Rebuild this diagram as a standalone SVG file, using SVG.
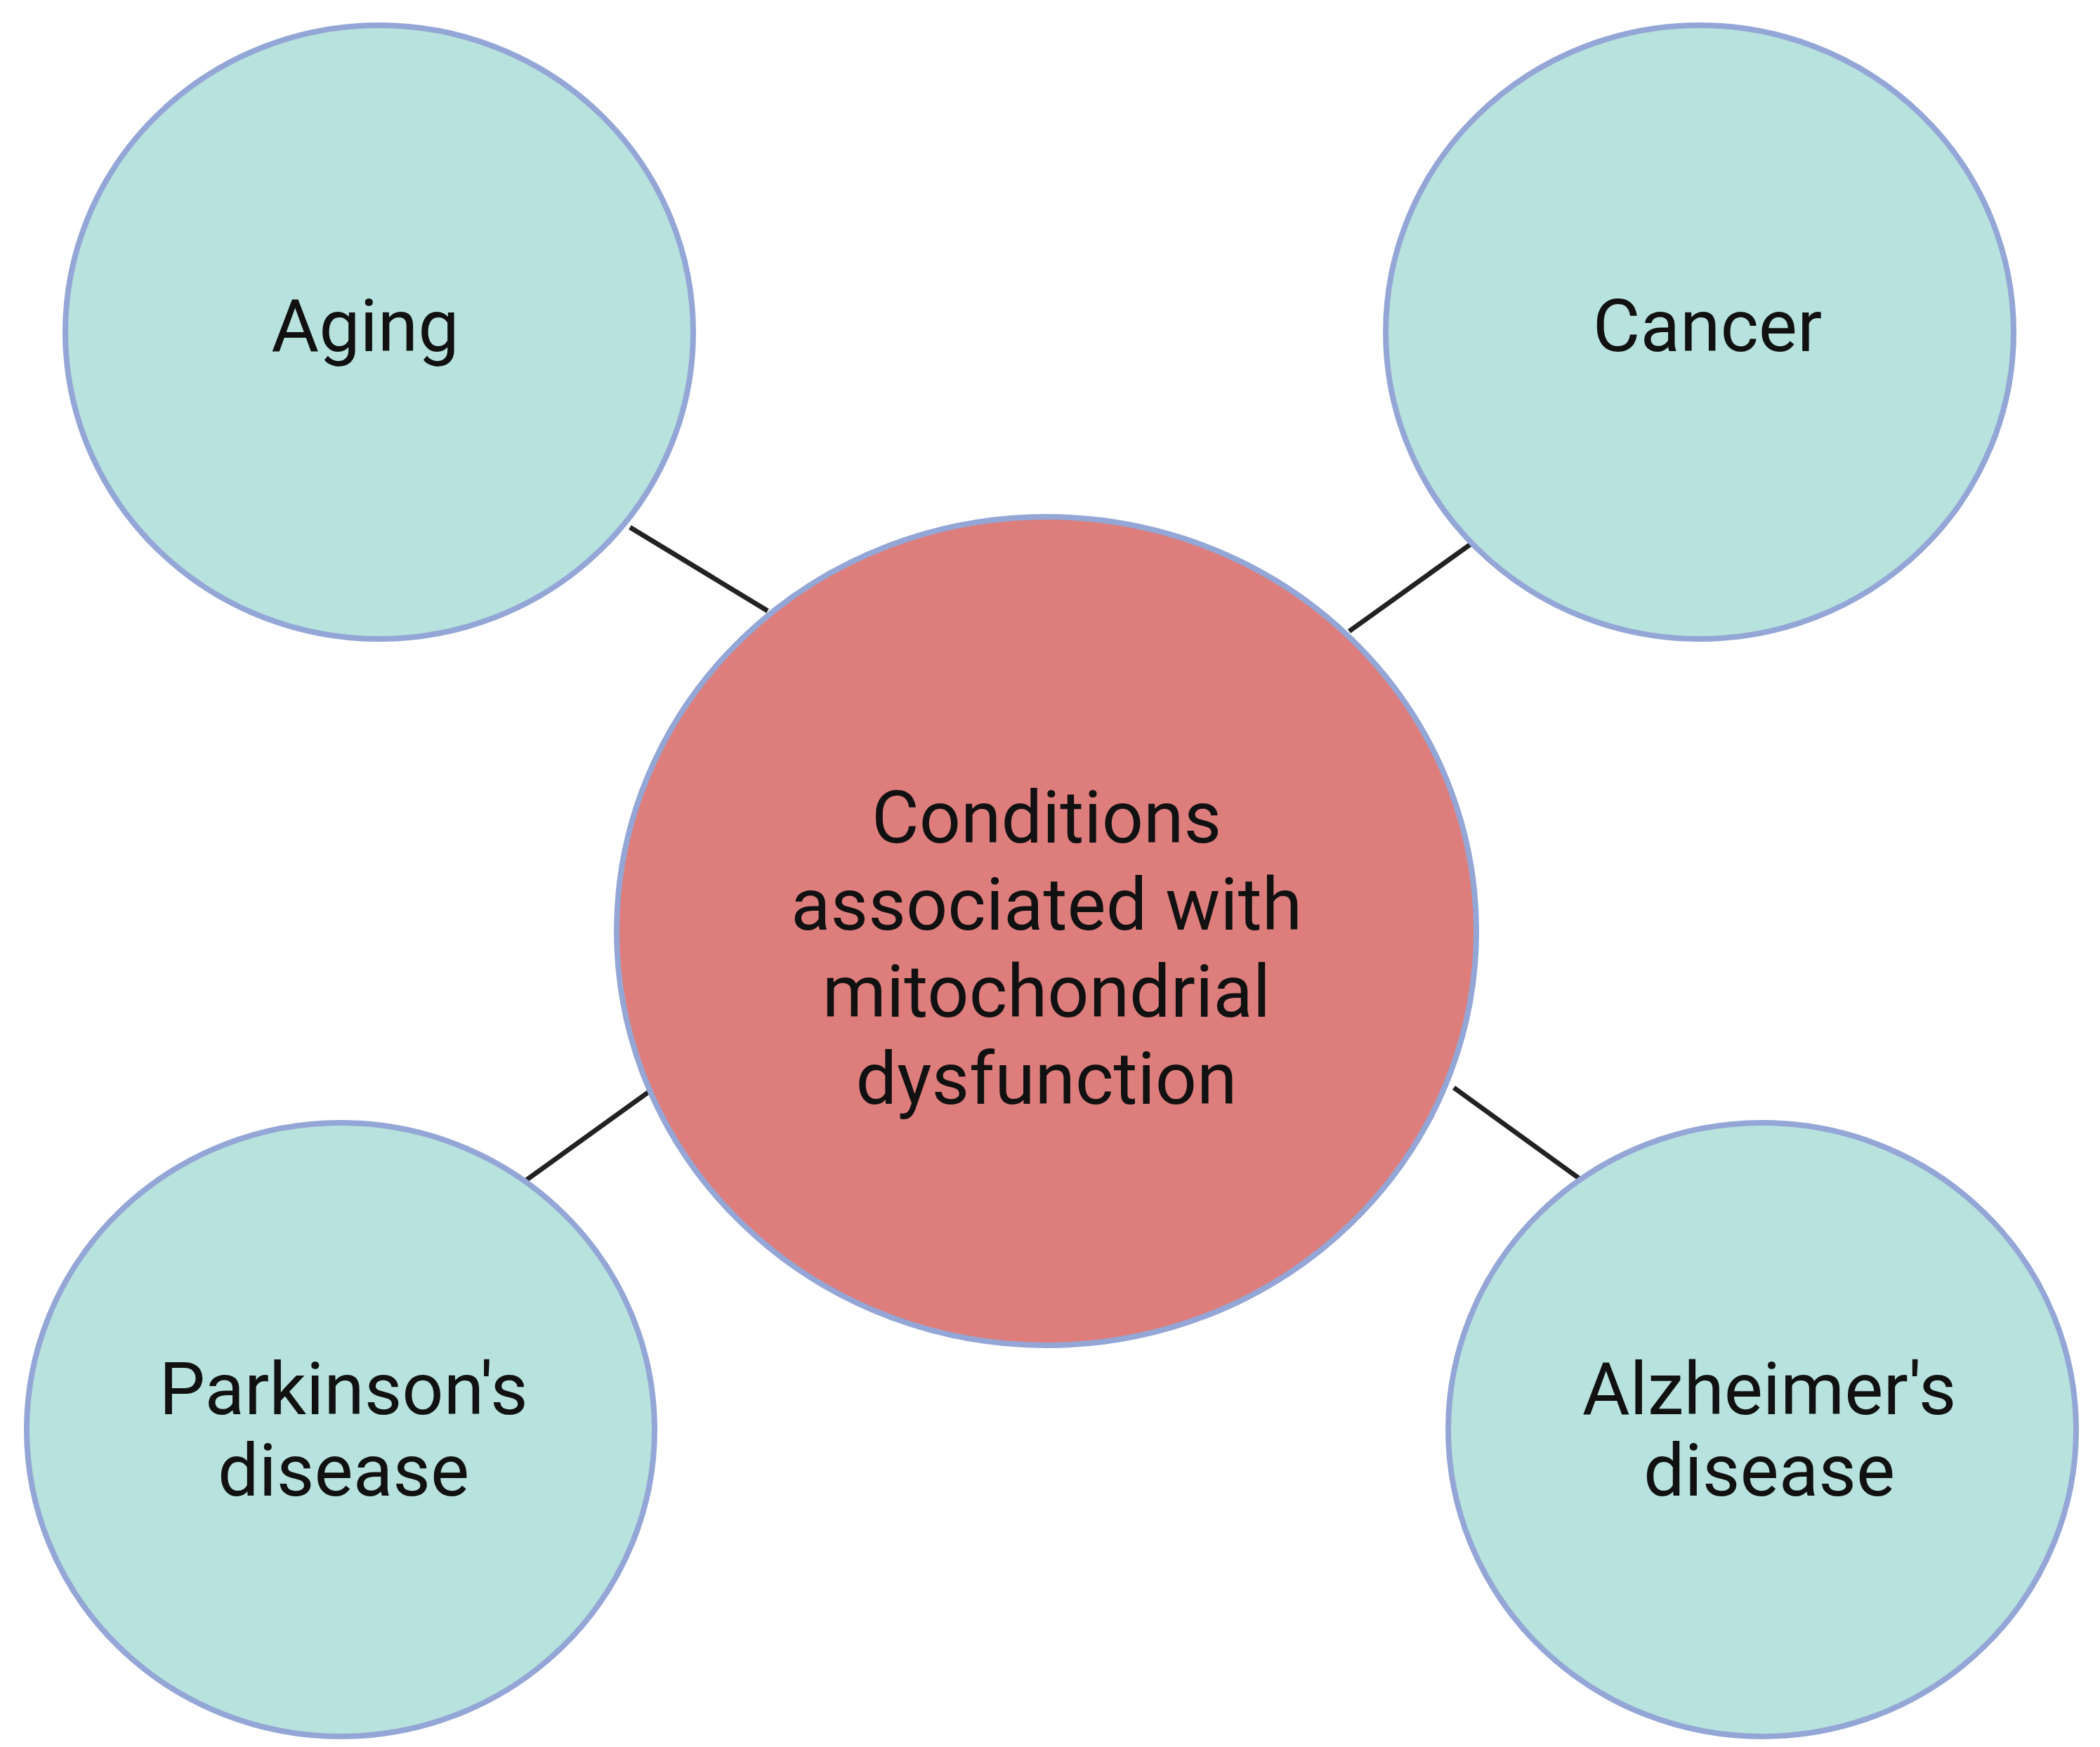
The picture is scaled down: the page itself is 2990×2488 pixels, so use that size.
<svg xmlns="http://www.w3.org/2000/svg" width="2990" height="2488" viewBox="0 0 2990 2488">
<style>
.n{fill:#b7e2de;stroke:#93a6d6;stroke-width:8}
.c{fill:#de7e7c;stroke:#93a6d6;stroke-width:8}
.t{font-family:Roboto,"Liberation Sans",sans-serif;font-size:104px;fill:#111;text-anchor:middle}
.l{stroke:#222;stroke-width:7}
</style>
<rect width="2990" height="2488" fill="#fff"/>
<g id="connectors">
<line class="l" x1="897" y1="751" x2="1093" y2="870"/>
<line class="l" x1="2105" y1="767" x2="1921" y2="899"/>
<line class="l" x1="746" y1="1683" x2="932" y2="1549"/>
<line class="l" x1="2070" y1="1549" x2="2255" y2="1683"/>
</g>
<g id="aging"><ellipse class="n" cx="540" cy="473" rx="447" ry="437"/><text class="t" x="520" y="500">Aging</text></g>
<g id="cancer"><ellipse class="n" cx="2420" cy="473" rx="447" ry="437"/><text class="t" x="2431" y="500">Cancer</text></g>
<g id="center"><ellipse class="c" cx="1490" cy="1326" rx="612" ry="590"/>
<text class="t" x="1490" y="1200">Conditions</text>
<text class="t" x="1490" y="1324">associated with</text>
<text class="t" x="1490" y="1448">mitochondrial</text>
<text class="t" x="1490" y="1572">dysfunction</text></g>
<g id="parkinson"><ellipse class="n" cx="485" cy="2036" rx="447" ry="437"/><text class="t" x="489" y="2014">Parkinson's</text><text class="t" x="489" y="2130">disease</text></g>
<g id="alzheimer"><ellipse class="n" cx="2509" cy="2036" rx="447" ry="437"/><text class="t" x="2519" y="2014">Alzheimer's</text><text class="t" x="2519" y="2130">disease</text></g>
</svg>
